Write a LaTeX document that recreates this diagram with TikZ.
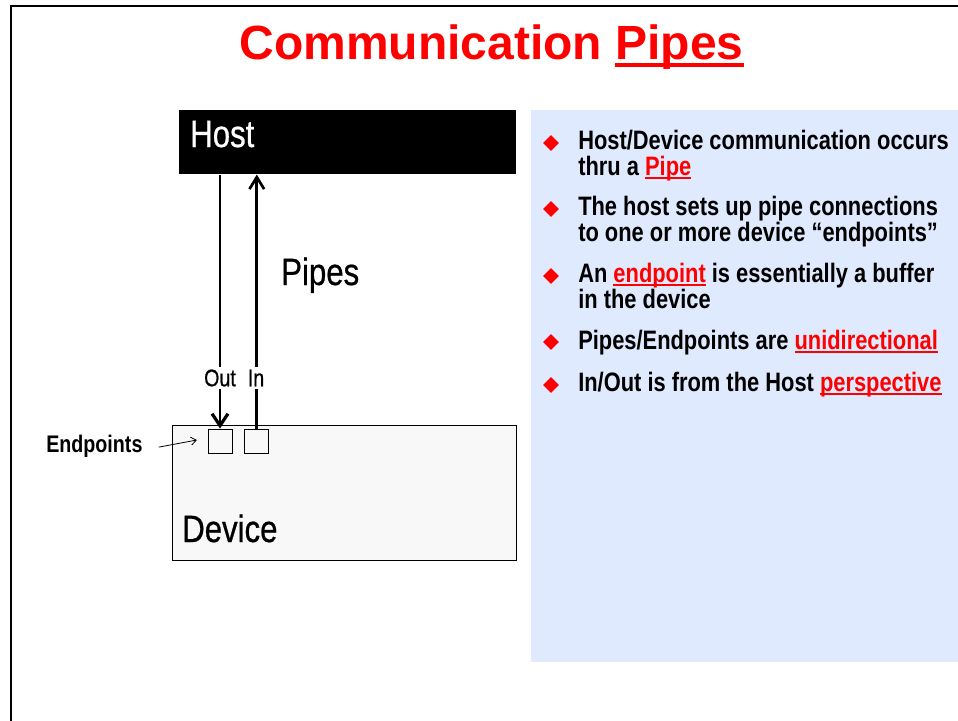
\documentclass[tikz,border=0pt]{standalone}
\usepackage{fontspec}
\setmainfont{Liberation Sans}
\newfontfamily\narrowfont{Liberation Sans}[FakeStretch=0.82]
\newfontfamily\labelfont{Liberation Sans}[FakeStretch=0.82, FakeBold=0.6]
\usetikzlibrary{arrows.meta, positioning, shapes.geometric}
\definecolor{slidered}{RGB}{255,0,0}
\definecolor{panelblue}{RGB}{224,234,254}
\definecolor{devicegray}{RGB}{248,248,248}
% red word with a rule close under the baseline
\newcommand{\redline}[3]{{\color{slidered}\setbox0\hbox{#3}\rlap{\rule[-#1]{\wd0}{#2}}\box0}}

\begin{document}
\begin{tikzpicture}[x=0.75pt, y=-0.75pt,
    slidetitle/.style={font=\fontsize{36}{40}\selectfont\bfseries, text=slidered, inner sep=0pt},
    bigtext/.style={font=\labelfont\fontsize{28.5}{30}\selectfont, inner sep=0pt},
    pipelabel/.style={font=\labelfont\fontsize{18}{20}\selectfont, inner sep=2pt},
    bullettext/.style={font=\narrowfont\bfseries\fontsize{20}{19.5}\selectfont, align=left, anchor=base west, inner sep=0pt},
    bulletmark/.style={diamond, fill=slidered, inner sep=0pt, minimum size=12pt},
    endpt/.style={draw, line width=0.6pt, fill=devicegray, minimum size=18pt, inner sep=0pt},
    pipe/.style={line width=2pt}
]
\useasboundingbox (0,0) rectangle (958,721);

% slide frame and title
\draw[line width=1.5pt] (11,721) -- (11,6) -- (958,6);
\node[slidetitle, anchor=base] (title) at (491.5,59) {Communication \redline{6pt}{3pt}{Pipes}};

% host and device
\node[fill=black, minimum width=252.75pt, minimum height=48pt, anchor=north west, inner sep=0pt] (host) at (179,110) {};
\node[bigtext, text=white, anchor=base west] (hostlbl) at (190,147) {Host};

\node[draw, line width=0.6pt, fill=devicegray, minimum width=258pt, minimum height=101.25pt, anchor=north west, inner sep=0pt] (device) at (172,425) {};
\node[bigtext, anchor=base west] (devicelbl) at (182,542) {Device};

% endpoints
\node[endpt] (epout) at (220,441) {};
\node[endpt, right=9pt of epout] (epin) {};

\node[pipelabel, font=\narrowfont\bfseries\fontsize{18}{20}\selectfont, anchor=base west, inner sep=0pt] (eplbl) at (46,452) {Endpoints};
\draw[line width=0.6pt, -{Straight Barb[length=4pt, width=6pt]}] ([xshift=12pt, yshift=-1pt]eplbl.east) -- ([xshift=-8pt, yshift=0.75pt]epout.west);

% pipes
\draw[pipe, -{Straight Barb[length=9pt, width=12pt, line width=2.4pt]}] (epout.north |- host.south) -- (epout.north);
\draw[pipe, -{Straight Barb[length=9pt, width=11pt]}] (epin.north) -- (epin.north |- host.south);

\node[pipelabel, fill=white] (outlbl) at (220,378) {Out};
\node[pipelabel, fill=white] (inlbl) at (256,378) {In};
\node[bigtext, anchor=base west] (pipeslbl) at (281,285) {Pipes};

% bullet panel (base of a two-line node is its last line)
\node[fill=panelblue, minimum width=320.25pt, minimum height=414pt, anchor=north west, inner sep=0pt] (panel) at (531,110) {};

\node[bulletmark] (b1) at (551,143) {};
\node[bullettext] (t1) at (578,175) {Host/Device communication occurs\\thru a \redline{3pt}{1.5pt}{Pipe}};
\node[bulletmark] (b2) at (551,209) {};
\node[bullettext] (t2) at (578,241) {The host sets up pipe connections\\to one or more device “endpoints”};
\node[bulletmark] (b3) at (551,276) {};
\node[bullettext] (t3) at (578,308) {An \redline{3pt}{1.5pt}{endpoint} is essentially a buffer\\in the device};
\node[bulletmark] (b4) at (551,342) {};
\node[bullettext] (t4) at (578,349) {Pipes/Endpoints are \redline{3pt}{1.5pt}{unidirectional}};
\node[bulletmark] (b5) at (551,385) {};
\node[bullettext] (t5) at (578,391) {In/Out is from the Host \redline{3pt}{1.5pt}{perspective}};

\end{tikzpicture}
\end{document}
